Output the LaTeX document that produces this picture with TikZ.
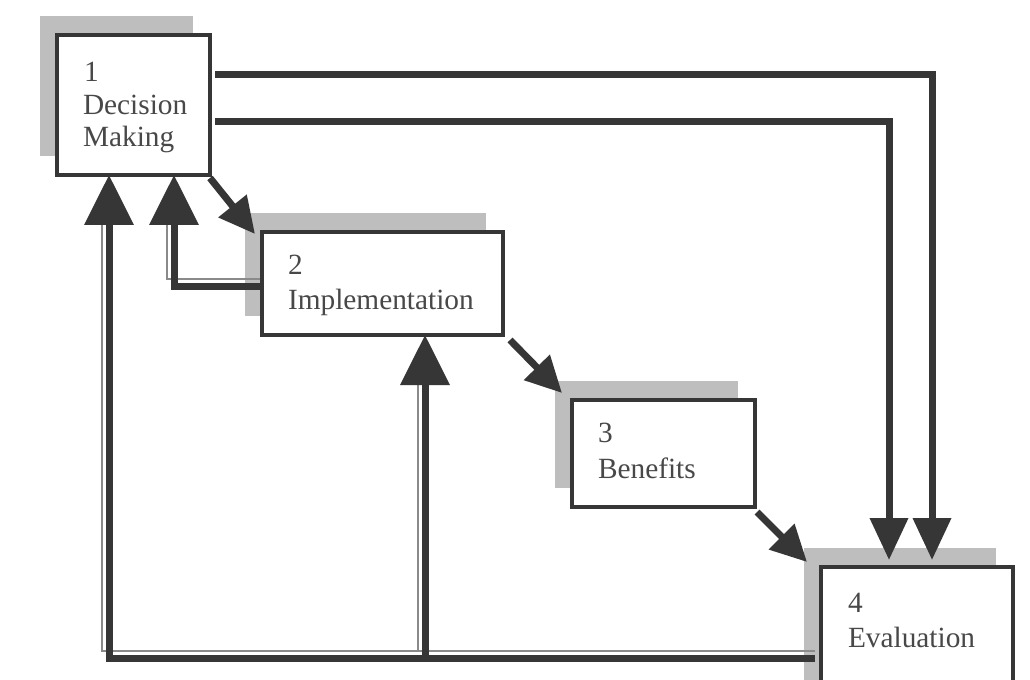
\documentclass[tikz,border=0pt]{standalone}
\usepackage{fontspec}
\setmainfont{Liberation Serif}
\usetikzlibrary{arrows.meta}
\pgfdeclarelayer{bg}
\pgfsetlayers{bg,main}
\definecolor{ink}{HTML}{363636}
\definecolor{shadowgray}{HTML}{BEBEBE}
\definecolor{txt}{HTML}{484848}
\definecolor{faint}{HTML}{8A8A8A}
\begin{document}
\begin{tikzpicture}[x=0.75pt,y=-0.75pt,
  box/.style={draw=ink, line width=2.4pt, fill=white, anchor=north west, inner sep=0pt, outer sep=0pt},
  lbl/.style={anchor=base west, inner sep=0pt, outer sep=0pt, text=txt, font=\fontsize{22}{25}\selectfont},
  flow/.style={draw=ink, line width=5.25pt, -{Triangle[width=27.75pt,length=31.5pt]}},
  diag/.style={draw=ink, line width=5.25pt, -{Triangle[width=26pt,length=27pt]}},
  fb/.style={draw=ink, line width=5.25pt, -{Triangle[width=36pt,length=37.5pt]}},
  thinline/.style={draw=faint, line width=1.5pt}]
\useasboundingbox (0,0) rectangle (1030,680);
\clip (0,0) rectangle (1030,680);
% boxes
\node[box, minimum width=114.75pt, minimum height=105pt] (b1) at (57,35) {};
\node[box, minimum width=180.75pt, minimum height=77.25pt] (b2) at (262,232) {};
\node[box, minimum width=137.25pt, minimum height=80.25pt] (b3) at (572,400) {};
\node[box, minimum width=144pt, minimum height=99pt] (b4) at (821,567) {};
% shadows
\begin{pgfonlayer}{bg}
  \fill[white] (0,0) rectangle (1030,680);
  \foreach \b in {b1,b2,b3,b4}{
    \fill[shadowgray] ([shift={(-17,-19)}]\b.north west) rectangle ([shift={(-17,-19)}]\b.south east);
  }
\end{pgfonlayer}
% labels
\node[lbl] (t1a) at ([shift={(27,47)}]b1.north west) {1};
\node[lbl] (t1b) at ([shift={(26,80)}]b1.north west) {Decision};
\node[lbl] (t1c) at ([shift={(26,112)}]b1.north west) {Making};
\node[lbl] (t2a) at ([shift={(26,43)}]b2.north west) {2};
\node[lbl] (t2b) at ([shift={(26,78)}]b2.north west) {Implementation};
\node[lbl] (t3a) at ([shift={(26,42)}]b3.north west) {3};
\node[lbl] (t3b) at ([shift={(26,78)}]b3.north west) {Benefits};
\node[lbl] (t4a) at ([shift={(27,45)}]b4.north west) {4};
\node[lbl] (t4b) at ([shift={(27,80)}]b4.north west) {Evaluation};
% thin companion lines of the feedback connectors
\draw[thinline] ([shift={(-6,84)}]b4.north west) -| ([shift={(45,47)}]b1.south west);
\draw[thinline] ([shift={(156,316)}]b2.south west) -- ([shift={(156,50)}]b2.south west);
\draw[thinline] ([shift={(-2,47)}]b2.north west) -| ([shift={(110,47)}]b1.south west);
% forward arrows
\draw[flow] ([shift={(5,40)}]b1.north east) -| ([shift={(111,-7)}]b4.north west);
\draw[flow] ([shift={(5,87)}]b1.north east) -| ([shift={(68,-7)}]b4.north west);
\draw[diag] ([shift={(0,3)}]b1.south east) -- ([shift={(-7,2)}]b2.north west);
\draw[diag] ([shift={(7,5)}]b2.south east) -- ([shift={(-10,-7)}]b3.north west);
\draw[diag] ([shift={(2,5)}]b3.south east) -- ([shift={(-14,-5)}]b4.north west);
% feedback arrows
\coordinate (j) at ([shift={(163,323)}]b2.south west);
\draw[fb] ([shift={(-6,91)}]b4.north west) -| ([shift={(52,0)}]b1.south west);
\draw[fb] (j) -- ([shift={(163,0)}]b2.south west);
\draw[fb] ([shift={(0,55)}]b2.north west) -| ([shift={(117,0)}]b1.south west);
\end{tikzpicture}
\end{document}
